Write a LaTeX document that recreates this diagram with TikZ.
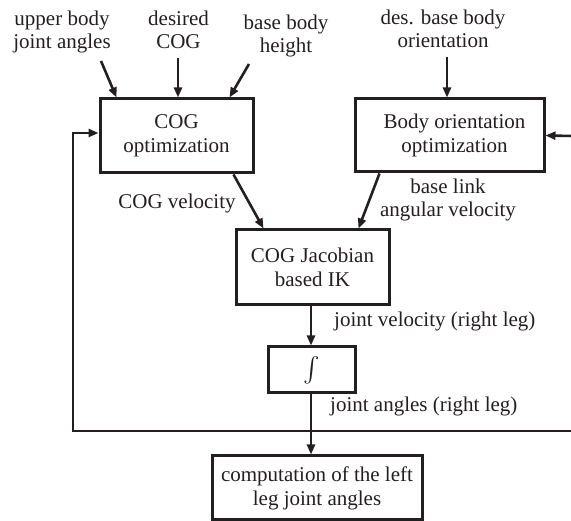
\documentclass[tikz,border=0pt]{standalone}
\usepackage{amsmath}
\usepackage{fontspec}
\setmainfont{Liberation Serif}
\usetikzlibrary{arrows.meta}
\definecolor{ink}{HTML}{231F20}
\begin{document}
\begin{tikzpicture}[x=1pt,y=-1pt,
  every node/.style={font=\fontsize{21}{24}\selectfont, text=ink},
  blk/.style={draw=ink, line width=3pt, inner sep=0pt, align=center},
  lbl/.style={inner sep=0pt, align=center, font=\fontsize{21}{23}\selectfont},
  conn/.style={draw=ink, line width=2.6pt, -{Triangle[length=10pt,width=8pt]}},
  wire/.style={draw=ink, line width=2.6pt},
]
\useasboundingbox (0,0) rectangle (571,521);

% processing blocks
\node[blk, minimum width=153pt, minimum height=74pt] (cog)  at (176.5,136)   {COG\\optimization};
\node[blk, minimum width=189pt, minimum height=73pt] (body) at (449.5,135.5) {\hspace*{10pt}Body orientation\\\hspace*{10pt}optimization};
\node[blk, minimum width=153pt, minimum height=75pt] (jac)  at (312.5,267.5) {COG Jacobian\\based IK};
\node[blk, minimum width=87pt,  minimum height=46pt] (intg) at (311.5,370)   {\fontsize{29}{29}\selectfont$\int$};
\node[blk, minimum width=210pt, minimum height=64pt] (bot)  at (317,488)     {computation of the left\\leg joint angles};

% input labels
\node[lbl] (inUB)  at (62,32)    {upper body\\joint angles};
\node[lbl] (inCOG) at (178.5,29.5) {desired\\COG};
\node[lbl] (inH)   at (286,35.5) {base body\\height};
\node[lbl] (inOri) at (443,29)   {des. base body\\orientation};

% signal labels
\node[lbl] (lCV)  at (177,203)   {COG velocity};
\node[lbl] (lAV)  at (448,199.5) {base link\\angular velocity};
\node[lbl, anchor=base west] (lJV) at (334,327) {joint velocity (right leg)};
\node[lbl, anchor=base west] (lJA) at (330,412) {joint angles (right leg)};

% free ends of the connectors
\coordinate (sUB)  at (101,61);
\coordinate (sCOG) at (178,58);
\coordinate (sH)   at (249,64);
\coordinate (sOri) at (447,57);
\coordinate (sR)   at (573,136);
\coordinate (junc) at (311,431);
\coordinate (fbl)  at (73,431);
\coordinate (fbr)  at (573,431);

% inputs into the optimisation blocks
\draw[conn] (sUB)  -- ([xshift=18pt]cog.north west);
\draw[conn] (sCOG) -- ([xshift=1.5pt]cog.north);
\draw[conn] (sH)   -- ([xshift=-25pt]cog.north east);
\draw[conn] (sOri) -- ([xshift=-2.5pt]body.north);
\draw[conn] (sR)   -- (body.east);

% velocities into the IK block
\draw[conn] ([xshift=-21pt]cog.south east) -- ([xshift=29pt]jac.north west);
\draw[conn] ([xshift=26pt]body.south west) -- ([xshift=-32pt]jac.north east);

% IK -> integrator -> left leg
\draw[conn] (junc |- jac.south) -- (junc |- intg.north);
\draw[conn] (junc |- intg.south) -- (junc |- bot.north);

% feedback of the right leg joint angles
\draw[conn] (junc) -- (fbl) |- ([yshift=3pt]cog.west);
\draw[wire] (junc) -- (fbr);
\end{tikzpicture}
\end{document}
